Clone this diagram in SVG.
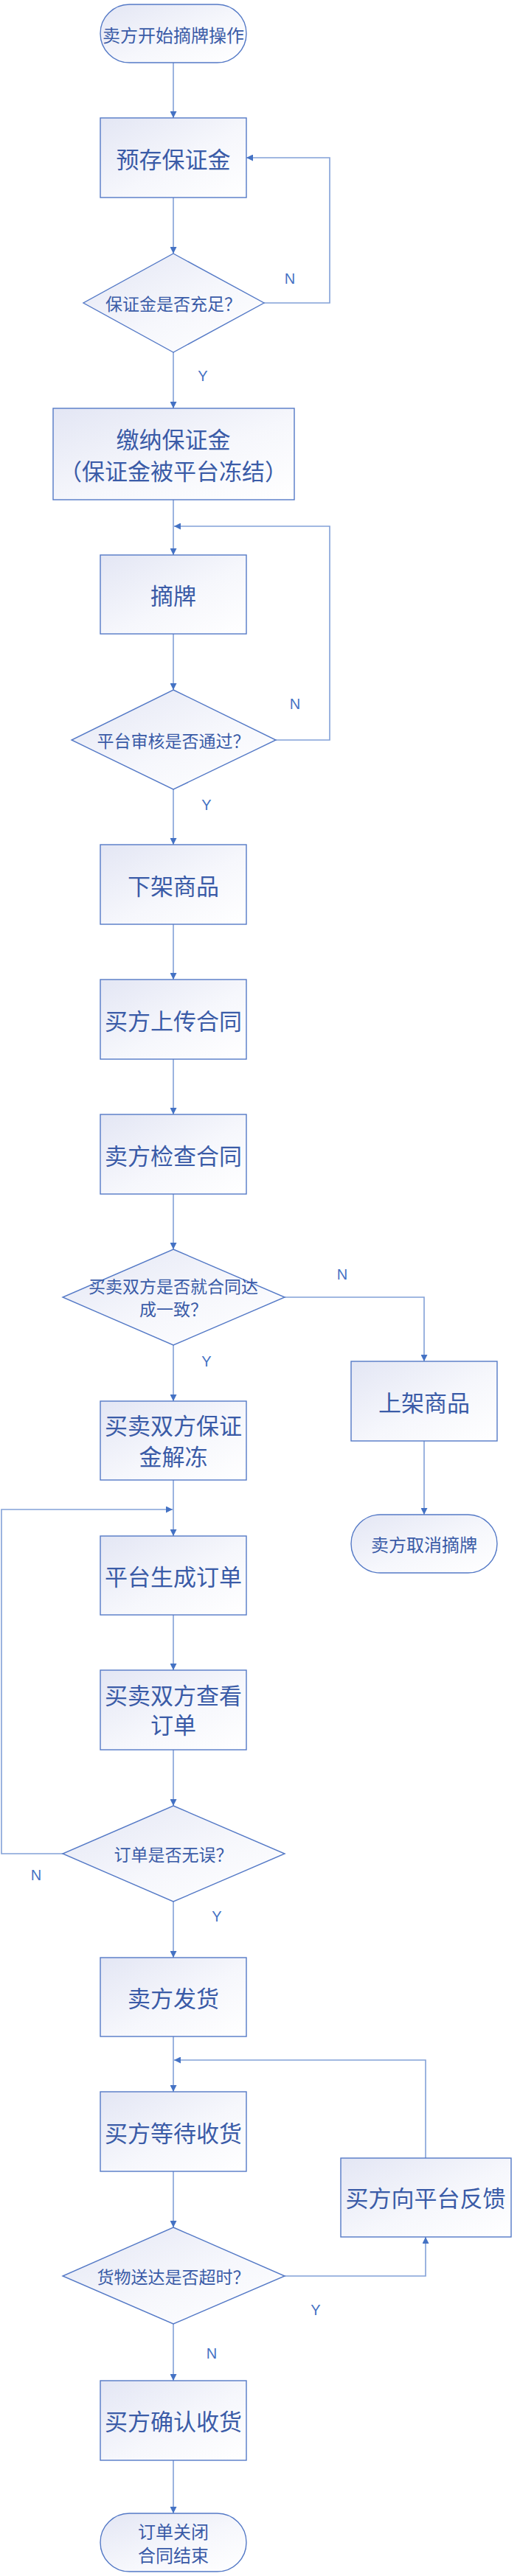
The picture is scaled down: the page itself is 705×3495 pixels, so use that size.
<svg xmlns="http://www.w3.org/2000/svg" width="705" height="3495" viewBox="0 0 705 3495">
<defs>
<linearGradient id="g" x1="0" y1="0" x2="1" y2="1">
<stop offset="0" stop-color="#E3E6F4"/>
<stop offset="0.55" stop-color="#F6F7FC"/>
<stop offset="1" stop-color="#FFFFFF"/>
</linearGradient>
<marker id="a" viewBox="0 0 10 10" refX="10" refY="5" markerWidth="9" markerHeight="9" markerUnits="userSpaceOnUse" orient="auto">
<path d="M0,0 L10,5 L0,10 z" fill="#4472C4"/>
</marker>
<style>
.n{fill:url(#g);stroke:#5479C6;stroke-width:1.4}
.t{font-family:"Noto Sans CJK SC","Noto Sans",sans-serif;fill:#3A5BA7;text-anchor:middle;dominant-baseline:central}
.b{font-size:31px}
.s{font-size:23px}
.c{fill:none;stroke:#83A1D8;stroke-width:1.6}
.l{font-family:"Liberation Sans",Arial,sans-serif;font-size:20px;fill:#4472C4;text-anchor:middle;dominant-baseline:central}
</style>
</defs>
<rect width="705" height="3495" fill="#FFFFFF"/>

<g id="connectors">
<path class="c" d="M235,85 V160" marker-end="url(#a)"/>
<path class="c" d="M235,268 V344" marker-end="url(#a)"/>
<path class="c" d="M358,411 H447 V214 H334" marker-end="url(#a)"/>
<path class="c" d="M235,478 V554" marker-end="url(#a)"/>
<path class="c" d="M235,678 V753" marker-end="url(#a)"/>
<path class="c" d="M235,860 V936" marker-end="url(#a)"/>
<path class="c" d="M374,1004 H447 V714 H236" marker-end="url(#a)"/>
<path class="c" d="M235,1071 V1146" marker-end="url(#a)"/>
<path class="c" d="M235,1254 V1329" marker-end="url(#a)"/>
<path class="c" d="M235,1437 V1512" marker-end="url(#a)"/>
<path class="c" d="M235,1620 V1695" marker-end="url(#a)"/>
<path class="c" d="M386,1760 H575 V1847" marker-end="url(#a)"/>
<path class="c" d="M575,1955 V2055" marker-end="url(#a)"/>
<path class="c" d="M235,1825 V1901" marker-end="url(#a)"/>
<path class="c" d="M235,2008 V2084" marker-end="url(#a)"/>
<path class="c" d="M85,2515 H2 V2048 H234" marker-end="url(#a)"/>
<path class="c" d="M235,2191 V2266" marker-end="url(#a)"/>
<path class="c" d="M235,2374 V2450" marker-end="url(#a)"/>
<path class="c" d="M235,2580 V2656" marker-end="url(#a)"/>
<path class="c" d="M235,2763 V2838" marker-end="url(#a)"/>
<path class="c" d="M577,2928 V2795 H236" marker-end="url(#a)"/>
<path class="c" d="M235,2946 V3022" marker-end="url(#a)"/>
<path class="c" d="M386,3088 H577 V3035" marker-end="url(#a)"/>
<path class="c" d="M235,3153 V3230" marker-end="url(#a)"/>
<path class="c" d="M235,3338 V3410" marker-end="url(#a)"/>
<text class="l" x="393" y="378">N</text>
<text class="l" x="275" y="510">Y</text>
<text class="l" x="400" y="955">N</text>
<text class="l" x="280" y="1092">Y</text>
<text class="l" x="464" y="1729">N</text>
<text class="l" x="280" y="1847">Y</text>
<text class="l" x="49" y="2544">N</text>
<text class="l" x="294" y="2600">Y</text>
<text class="l" x="428" y="3134">Y</text>
<text class="l" x="287" y="3193">N</text>
</g>

<g id="start">
<rect class="n" x="136" y="6" width="198" height="79" rx="39.5"/>
<text class="t" x="235" y="46" font-size="24">卖方开始摘牌操作</text>
</g>
<g id="deposit">
<rect class="n" x="136" y="160" width="198" height="108"/>
<text class="t b" x="235" y="214">预存保证金</text>
</g>
<g id="check-deposit">
<path class="n" d="M235,344 L358,411 L235,478 L113,411 z"/>
<text class="t s" x="235" y="411">保证金是否充足？</text>
</g>
<g id="pay-deposit">
<rect class="n" x="72" y="554" width="327" height="124"/>
<text class="t b" x="235" y="594">缴纳保证金</text>
<text class="t b" x="235" y="637">（保证金被平台冻结）</text>
</g>
<g id="delist">
<rect class="n" x="136" y="753" width="198" height="107"/>
<text class="t b" x="235" y="806">摘牌</text>
</g>
<g id="review">
<path class="n" d="M235,936 L374,1004 L235,1071 L97,1004 z"/>
<text class="t s" x="235" y="1004">平台审核是否通过？</text>
</g>
<g id="off-shelf">
<rect class="n" x="136" y="1146" width="198" height="108"/>
<text class="t b" x="235" y="1200">下架商品</text>
</g>
<g id="upload-contract">
<rect class="n" x="136" y="1329" width="198" height="108"/>
<text class="t b" x="235" y="1383">买方上传合同</text>
</g>
<g id="check-contract">
<rect class="n" x="136" y="1512" width="198" height="108"/>
<text class="t b" x="235" y="1566">卖方检查合同</text>
</g>
<g id="agree">
<path class="n" d="M235,1695 L386,1760 L235,1825 L85,1760 z"/>
<text class="t s" x="235" y="1744">买卖双方是否就合同达</text>
<text class="t s" x="235" y="1775">成一致？</text>
</g>
<g id="on-shelf">
<rect class="n" x="476" y="1847" width="198" height="108"/>
<text class="t b" x="575" y="1901">上架商品</text>
</g>
<g id="cancel">
<rect class="n" x="476" y="2055" width="198" height="79" rx="39.5"/>
<text class="t" x="575" y="2094" font-size="24">卖方取消摘牌</text>
</g>
<g id="unfreeze">
<rect class="n" x="136" y="1901" width="198" height="107"/>
<text class="t b" x="235" y="1932">买卖双方保证</text>
<text class="t b" x="235" y="1974">金解冻</text>
</g>
<g id="create-order">
<rect class="n" x="136" y="2084" width="198" height="107"/>
<text class="t b" x="235" y="2137">平台生成订单</text>
</g>
<g id="view-order">
<rect class="n" x="136" y="2266" width="198" height="108"/>
<text class="t b" x="235" y="2298">买卖双方查看</text>
<text class="t b" x="235" y="2338">订单</text>
</g>
<g id="order-ok">
<path class="n" d="M235,2450 L386,2515 L235,2580 L85,2515 z"/>
<text class="t s" x="235" y="2515">订单是否无误？</text>
</g>
<g id="ship">
<rect class="n" x="136" y="2656" width="198" height="107"/>
<text class="t b" x="235" y="2709">卖方发货</text>
</g>
<g id="wait">
<rect class="n" x="136" y="2838" width="198" height="108"/>
<text class="t b" x="235" y="2892">买方等待收货</text>
</g>
<g id="feedback">
<rect class="n" x="462" y="2928" width="231" height="107"/>
<text class="t b" x="577" y="2980">买方向平台反馈</text>
</g>
<g id="timeout">
<path class="n" d="M235,3022 L386,3088 L235,3153 L85,3088 z"/>
<text class="t s" x="235" y="3088">货物送达是否超时？</text>
</g>
<g id="confirm">
<rect class="n" x="136" y="3230" width="198" height="108"/>
<text class="t b" x="235" y="3283">买方确认收货</text>
</g>
<g id="end">
<rect class="n" x="136" y="3410" width="198" height="79" rx="39.5"/>
<text class="t" x="235" y="3433" font-size="24">订单关闭</text>
<text class="t" x="235" y="3465" font-size="24">合同结束</text>
</g>
</svg>
